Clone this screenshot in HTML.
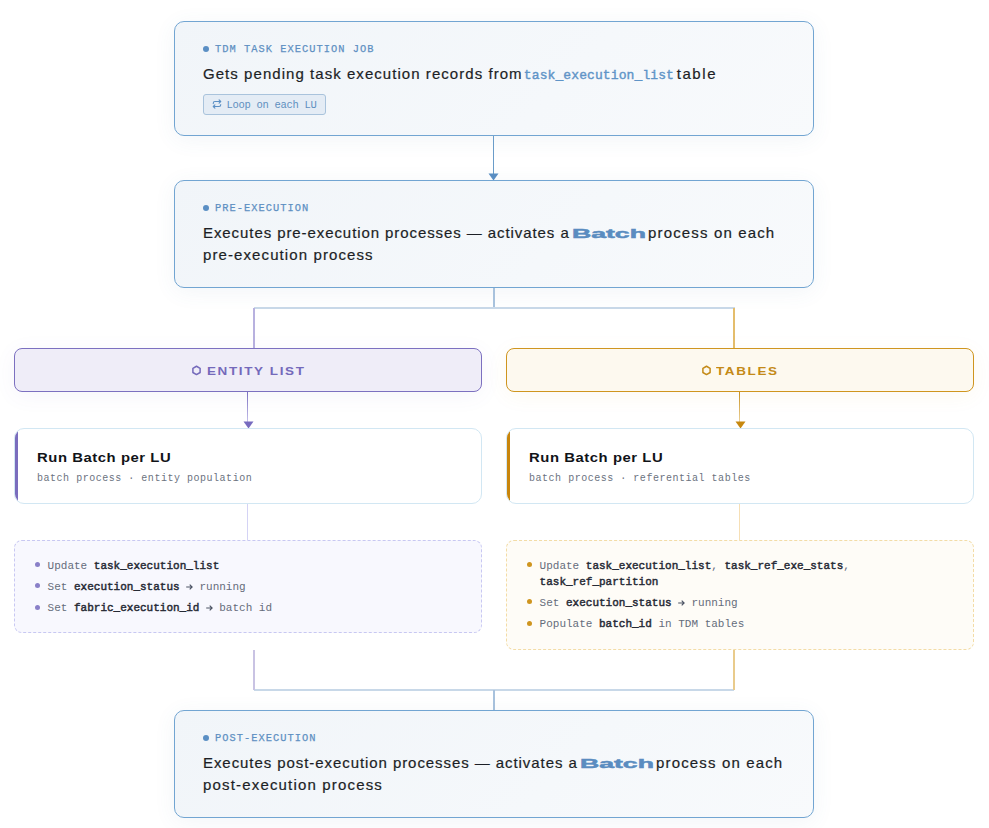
<!DOCTYPE html>
<html><head><meta charset="utf-8">
<style>
*{box-sizing:border-box;margin:0;padding:0}
html,body{width:989px;height:828px;background:#ffffff;overflow:hidden}
body{position:relative;font-family:"Liberation Sans",sans-serif;color:#1c1f26}
.stage{position:absolute;left:174px;width:640px;border:1px solid #72a5d2;border-radius:10px;
  background:linear-gradient(135deg,#f1f5f9 0%,#f5f8fb 60%,#f8fafc 100%);
  box-shadow:0 4px 22px rgba(70,110,160,0.07)}
.lbl{position:absolute;left:28px;font-family:"Liberation Mono",monospace;font-size:11px;letter-spacing:0.67px;color:#5d8fc2;white-space:nowrap;line-height:12px;padding-left:11.5px}
.lbl span{display:inline-block;font-size:11.8px;letter-spacing:1.16px;transform:scaleX(0.88);transform-origin:0 50%;-webkit-text-stroke:0.25px #5d8fc2}
.lbl:before{content:"";position:absolute;left:0;top:3px;width:6px;height:6px;border-radius:50%;background:#5b8fc4}
.t{position:absolute;font-size:15px;line-height:22px;white-space:nowrap;color:#1c1f26;letter-spacing:1px;-webkit-text-stroke:0.2px #1c1f26}
.code{font-family:"Liberation Mono",monospace;font-size:13px;color:#5b8fc4;letter-spacing:0.1px;color:#5f94c7;-webkit-text-stroke:0.4px #5f94c7}
.bw{position:absolute;font-weight:700;font-size:13.5px;line-height:22px;color:#5a8cc0;-webkit-text-stroke:0.5px #5a8cc0;transform-origin:0 50%;white-space:nowrap}
.chip{position:absolute;left:28px;top:72px;width:123px;height:21px;border:1px solid #a9c3dc;border-radius:3px;background:#e4ecf5;
  font-family:"Liberation Mono",monospace;font-size:10.5px;letter-spacing:-0.3px;color:#5f8fbf;line-height:19px;padding-top:1px;padding-left:22.5px}
.chip svg{position:absolute;left:7.8px;top:4.1px}
.line{position:absolute}
.hdr{position:absolute;top:348px;width:468px;height:44px;border-radius:8px}
.hdr svg{position:absolute;top:15px}
.hdr span{position:absolute;top:16px;font-weight:700;font-size:11.5px;letter-spacing:1.4px;line-height:12px;transform:scaleX(1.17);transform-origin:0 50%;white-space:nowrap}
.hl{left:14px;background:#efedf8;border:1px solid #7c70c0;color:#7469bb;box-shadow:0 4px 22px rgba(100,90,180,0.06)}
.hr{left:506px;background:#fdf9ef;border:1px solid #cf951f;color:#c48a17;box-shadow:0 4px 22px rgba(200,150,40,0.06)}
.card{position:absolute;top:428px;width:468px;height:76px;background:#fff;border:1px solid #d2e7f3;border-radius:10px;overflow:hidden}
.card .bar{position:absolute;left:0;top:0;bottom:0;width:3px}
.card h3{position:absolute;left:21.5px;top:20.8px;font-size:13.5px;letter-spacing:0.5px;transform:scaleX(1.1);transform-origin:0 50%;font-weight:700;color:#111318;line-height:16px;white-space:nowrap}
.card p{position:absolute;left:22px;top:43.5px;font-family:"Liberation Mono",monospace;font-size:10px;letter-spacing:0.52px;color:#6b7280;line-height:12px;white-space:nowrap}
.list{position:absolute;top:540px;width:468px;border-radius:8px;border:1px dashed;padding:17px 0 0 0}
.ll{left:14px;height:93px;background:#f8f8fe;border-color:#c8c8f2}
.lr{left:506px;height:110px;background:#fefcf7;border-color:#f3dca6}
.list ul{list-style:none;font-family:"Liberation Mono",monospace;font-size:11px;line-height:16px;color:#656c7b}
.list li{position:relative;padding-left:32.6px;margin-bottom:5.2px;white-space:nowrap}
.list li:before{content:"";position:absolute;left:20px;top:4.3px;width:5px;height:5px;border-radius:50%}
.ll li:before{background:#8a80c8}
.lr li:before{background:#cf951f}
.list b{color:#262a35;font-weight:400;-webkit-text-stroke:0.45px #262a35}
.ar{vertical-align:0.5px}
</style></head><body>

<!-- top stage -->
<div class="stage" style="top:21px;height:115px">
  <div class="lbl" style="top:21px"><span>TDM TASK EXECUTION JOB</span></div>
  <div class="chip"><svg width="10" height="10" viewBox="0 0 24 24"><path d="m17 2 4 4-4 4M3 11v-1a4 4 0 0 1 4-4h14M7 22l-4-4 4-4M21 13v1a4 4 0 0 1-4 4H3" fill="none" stroke="#5b8fc4" stroke-width="2.6" stroke-linecap="round" stroke-linejoin="round"/></svg>Loop on each LU</div>
</div>
<div class="t" style="left:203px;top:63px"><span style="letter-spacing:1.05px">Gets pending task execution records from </span><span class="code" style="margin-left:-4px;margin-right:-2.5px">task_execution_list</span> <span style="letter-spacing:1.6px">table</span></div>

<!-- arrow 1 -->
<div class="line" style="left:493px;top:136px;width:1px;height:38px;background:#6a9cc9"></div>
<svg class="line" style="left:488px;top:173px" width="11" height="8"><path d="M0.5 0.5H10.5L5.5 7.5Z" fill="#5b8fc4"/></svg>

<!-- pre-execution -->
<div class="stage" style="top:180px;height:108px">
  <div class="lbl" style="top:21px"><span>PRE-EXECUTION</span></div>
</div>
<div class="t" style="left:203px;top:222px;letter-spacing:0.92px">Executes pre-execution processes — activates a</div>
<div class="bw" style="left:572px;top:223px;transform:scaleX(1.97)">Batch</div>
<div class="t" style="left:648px;top:222px;letter-spacing:1.15px">process on each</div>
<div class="t" style="left:203px;top:244px;letter-spacing:1.1px">pre-execution process</div>

<!-- branch connector -->
<div class="line" style="left:493px;top:288px;width:2px;height:20px;background:#a8c2dd"></div>
<div class="line" style="left:254px;top:307px;width:481px;height:2px;background:#c8d8e8"></div>
<div class="line" style="left:253px;top:308px;width:2px;height:40px;background:#b8b1df"></div>
<div class="line" style="left:733px;top:308px;width:2px;height:40px;background:#e4bd6c"></div>

<!-- headers -->
<div class="hdr hl"><svg style="left:176px" width="11" height="12" viewBox="0 0 11 12"><path d="M5.5 2.25L9.1 4.3V8.5L5.5 10.55L1.9 8.5V4.3Z" fill="none" stroke="#7469bb" stroke-width="1.5" stroke-linejoin="round"/></svg><span style="left:192px">ENTITY LIST</span></div>
<div class="hdr hr"><svg style="left:194px" width="11" height="12" viewBox="0 0 11 12"><path d="M5.5 2.25L9.1 4.3V8.5L5.5 10.55L1.9 8.5V4.3Z" fill="none" stroke="#c48a17" stroke-width="1.5" stroke-linejoin="round"/></svg><span style="left:209px">TABLES</span></div>

<!-- arrows to cards -->
<div class="line" style="left:247px;top:392px;width:1px;height:30px;background:linear-gradient(#7a6fc0,#c5c0ea)"></div>
<svg class="line" style="left:242.5px;top:421px" width="11" height="8"><path d="M0.5 0.5H10.5L5.5 7.5Z" fill="#776bbf"/></svg>
<div class="line" style="left:739px;top:392px;width:1px;height:30px;background:linear-gradient(#c8901e,#ecd29a)"></div>
<svg class="line" style="left:734.5px;top:421px" width="11" height="8"><path d="M0.5 0.5H10.5L5.5 7.5Z" fill="#c7880f"/></svg>

<!-- cards -->
<div class="card" style="left:14px"><div class="bar" style="background:#7a6dbd"></div><h3>Run Batch per LU</h3><p>batch process · entity population</p></div>
<div class="card" style="left:506px"><div class="bar" style="background:#c8850c"></div><h3>Run Batch per LU</h3><p>batch process · referential tables</p></div>

<div class="line" style="left:247px;top:504px;width:1px;height:36px;background:#d4d3f5"></div>
<div class="line" style="left:739px;top:504px;width:1px;height:36px;background:#f6dfb5"></div>

<!-- lists -->
<div class="list ll"><ul>
<li>Update <b>task_execution_list</b></li>
<li>Set <b>execution_status</b> <svg class="ar" width="6.6" height="6" viewBox="0 0 6.6 6"><path d="M0.2 3H6.1M3.7 0.7L6.1 3L3.7 5.3" fill="none" stroke="#4b5263" stroke-width="1.15"/></svg> running</li>
<li>Set <b>fabric_execution_id</b> <svg class="ar" width="6.6" height="6" viewBox="0 0 6.6 6"><path d="M0.2 3H6.1M3.7 0.7L6.1 3L3.7 5.3" fill="none" stroke="#4b5263" stroke-width="1.15"/></svg> batch id</li>
</ul></div>
<div class="list lr"><ul>
<li>Update <b>task_execution_list</b>, <b>task_ref_exe_stats</b>,<br><b>task_ref_partition</b></li>
<li>Set <b>execution_status</b> <svg class="ar" width="6.6" height="6" viewBox="0 0 6.6 6"><path d="M0.2 3H6.1M3.7 0.7L6.1 3L3.7 5.3" fill="none" stroke="#4b5263" stroke-width="1.15"/></svg> running</li>
<li>Populate <b>batch_id</b> in TDM tables</li>
</ul></div>

<!-- merge connector -->
<div class="line" style="left:254px;top:689px;width:480px;height:2px;background:#c8d8e8"></div>
<div class="line" style="left:253px;top:650px;width:2px;height:40px;background:#c9c3e3"></div>
<div class="line" style="left:733px;top:650px;width:2px;height:40px;background:#e9cb8c"></div>
<div class="line" style="left:493px;top:690px;width:2px;height:20px;background:#a8c2dd"></div>

<!-- post-execution -->
<div class="stage" style="top:710px;height:108px">
  <div class="lbl" style="top:21px"><span>POST-EXECUTION</span></div>
</div>
<div class="t" style="left:203px;top:752px;letter-spacing:0.93px">Executes post-execution processes — activates a</div>
<div class="bw" style="left:579.5px;top:753px;transform:scaleX(1.97)">Batch</div>
<div class="t" style="left:656px;top:752px;letter-spacing:1.15px">process on each</div>
<div class="t" style="left:203px;top:774px;letter-spacing:1.17px">post-execution process</div>

</body></html>
